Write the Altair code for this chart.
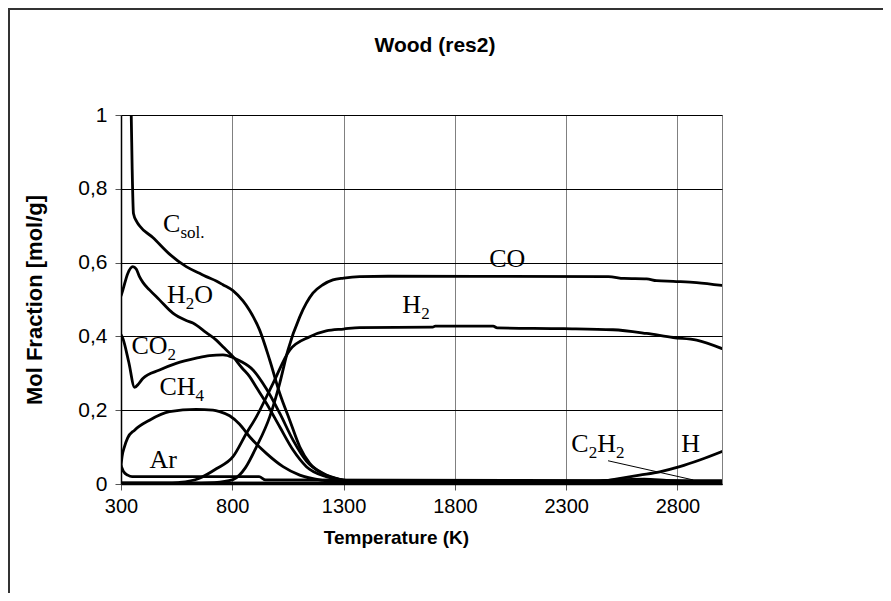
import altair as alt
import pandas as pd

# ---------------- data ----------------
T_CSOL = [340, 346, 350, 356, 370, 383, 443, 518, 593, 653, 683, 728, 758, 803, 848, 878, 923, 968, 1013, 1058, 1103, 1148, 1207, 1297, 1400, 3000]
V_CSOL = [1.08, 1.0, 0.86, 0.733, 0.712, 0.70, 0.668, 0.623, 0.589, 0.571, 0.562, 0.550, 0.540, 0.524, 0.496, 0.470, 0.417, 0.336, 0.246, 0.173, 0.101, 0.056, 0.029, 0.011, 0.004, 0.003]

T_H2O = [300, 308, 330, 353, 368, 383, 400, 428, 473, 533, 593, 623, 683, 728, 758, 803, 843, 878, 908, 953, 1013, 1073, 1133, 1222, 1300, 1400, 3000]
V_H2O = [0.51, 0.525, 0.57, 0.589, 0.583, 0.562, 0.545, 0.526, 0.499, 0.463, 0.443, 0.436, 0.41, 0.39, 0.372, 0.345, 0.315, 0.291, 0.262, 0.219, 0.155, 0.092, 0.047, 0.02, 0.01, 0.004, 0.003]

T_CO2 = [300, 308, 335, 361, 380, 398, 473, 548, 638, 698, 758, 803, 833, 893, 953, 1013, 1073, 1133, 1207, 1300, 1400, 3000]
V_CO2 = [0.405, 0.395, 0.33, 0.262, 0.272, 0.286, 0.309, 0.327, 0.341, 0.348, 0.35, 0.343, 0.334, 0.309, 0.258, 0.192, 0.119, 0.062, 0.028, 0.01, 0.004, 0.003]

T_CH4 = [300, 305, 315, 330, 361, 428, 518, 638, 713, 743, 788, 833, 878, 953, 1028, 1103, 1207, 1300, 3000]
V_CH4 = [0.05, 0.075, 0.10, 0.125, 0.146, 0.173, 0.196, 0.202, 0.2, 0.196, 0.185, 0.162, 0.128, 0.083, 0.047, 0.024, 0.01, 0.005, 0.003]

T_AR = [300, 312, 330, 350, 920, 950, 3000]
V_AR = [0.05, 0.033, 0.024, 0.02, 0.02, 0.011, 0.009]

T_CO = [300, 600, 720, 803, 860, 908, 968, 1013, 1050, 1103, 1162, 1207, 1252, 1300, 1372, 1500, 2490, 2560, 2661, 2706, 2781, 2886, 3000]
V_CO = [0.002, 0.002, 0.004, 0.012, 0.045, 0.10, 0.182, 0.273, 0.363, 0.453, 0.517, 0.54, 0.553, 0.558, 0.562, 0.563, 0.562, 0.557, 0.556, 0.551, 0.549, 0.546, 0.538]

T_H2 = [300, 500, 560, 650, 730, 803, 863, 908, 983, 1058, 1148, 1222, 1300, 1372, 1700, 1712, 1972, 1990, 2290, 2510, 2661, 2781, 2886, 3000]
V_H2 = [0.002, 0.002, 0.004, 0.015, 0.042, 0.074, 0.137, 0.182, 0.273, 0.363, 0.399, 0.415, 0.42, 0.424, 0.425, 0.428, 0.428, 0.423, 0.421, 0.418, 0.408, 0.397, 0.39, 0.367]

T_C2H2 = [300, 2300, 2450, 2550, 2650, 2750, 2870, 3000]
V_C2H2 = [0.002, 0.003, 0.008, 0.012, 0.013, 0.010, 0.006, 0.004]

T_H = [300, 2300, 2450, 2550, 2630, 2720, 2810, 2900, 3000]
V_H = [0.002, 0.002, 0.006, 0.016, 0.024, 0.033, 0.047, 0.065, 0.088]

SERIES = [
    ("Csol", T_CSOL, V_CSOL), ("H2O", T_H2O, V_H2O), ("CO2", T_CO2, V_CO2),
    ("CH4", T_CH4, V_CH4), ("Ar", T_AR, V_AR), ("CO", T_CO, V_CO),
    ("H2", T_H2, V_H2), ("C2H2", T_C2H2, V_C2H2), ("H", T_H, V_H),
]

X_TICKS = [300, 800, 1300, 1800, 2300, 2800]
Y_TICKS = [0, 0.2, 0.4, 0.6, 0.8, 1.0]

# curve labels: segments (text, is_subscript), anchor temperature, anchor value (baseline)
LABEL_SEGMENTS = [
    [("C", 0), ("sol.", 1)],
    [("H", 0), ("2", 1), ("O", 0)],
    [("CO", 0), ("2", 1)],
    [("CH", 0), ("4", 1)],
    [("Ar", 0)],
    [("CO", 0)],
    [("H", 0), ("2", 1)],
    [("C", 0), ("2", 1), ("H", 0), ("2", 1)],
    [("H", 0)],
]
LABEL_T = [489, 507, 347, 473, 428, 1954, 1564, 2323, 2817]
LABEL_V = [0.683, 0.49, 0.352, 0.241, 0.043, 0.588, 0.463, 0.087, 0.087]

# thin leader line under the C2H2 label
LEADER_T = [2488, 2871]
LEADER_V = [0.063, 0.011]

# ---------------- build tables ----------------
rows = []
for name, ts, vs in SERIES:
    for i, (t, v) in enumerate(zip(ts, vs)):
        rows.append({"species": name, "T": t, "v": v, "order": i})
df = pd.DataFrame(rows)

W, H = 601, 369
BASE, SUB, SUBDY = 26, 17, 6
PX2T = 2700.0 / W
GLYPH = {"C": 0.667, "H": 0.722, "O": 0.722, "A": 0.722, "r": 0.333, "2": 0.5,
         "4": 0.5, "s": 0.389, "o": 0.5, "l": 0.278, ".": 0.25}

seg_rows = []
for segs, t0, v0 in zip(LABEL_SEGMENTS, LABEL_T, LABEL_V):
    cursor = 0.0
    for text, sub in segs:
        size = SUB if sub else BASE
        seg_rows.append({
            "T": t0 + cursor * PX2T,
            "v": v0 - (SUBDY / H if sub else 0.0),
            "text": text,
            "sub": sub,
        })
        cursor += sum(GLYPH.get(c, 0.5) for c in text) * size
seg_df = pd.DataFrame(seg_rows)

leader_df = pd.DataFrame({"T": [LEADER_T[0]], "T2": [LEADER_T[1]],
                          "v": [LEADER_V[0]], "v2": [LEADER_V[1]]})

x_scale = alt.Scale(domain=[300, 3000], nice=False, zero=False)
y_scale = alt.Scale(domain=[0, 1], nice=False, zero=True)

x_axis = alt.Axis(
    values=X_TICKS, format="d", title="Temperature (K)", grid=True, gridColor="#808080",
    gridWidth=1, domainColor="black", domainWidth=1.5, tickColor="#555",
    tickSize=6, labelFont="Liberation Sans", labelFontSize=20,
    labelColor="black", labelPadding=6, titleFont="Liberation Sans",
    titleFontSize=19, titleFontWeight="bold", titleColor="black",
    titlePadding=12, labelFlush=False, titleX=275, titleAlign="center",
)
y_axis = alt.Axis(
    values=Y_TICKS, title="Mol Fraction [mol/g]", grid=True, gridColor="black",
    gridWidth=1, domainColor="black", domainWidth=1.5, tickColor="#555",
    tickSize=6, labelFont="Liberation Sans", labelFontSize=21,
    labelColor="black", labelPadding=8, titleFont="Liberation Sans",
    titleFontSize=22, titleFontWeight="bold", titleColor="black",
    titlePadding=31, labelFlush=False,
    labelExpr="replace(format(datum.value, '.1~f'), '.', ',')",
)

lines = alt.Chart(df).mark_line(
    color="black", strokeWidth=2.8, clip=True, interpolate="monotone",
    strokeJoin="round", strokeCap="round",
).encode(
    x=alt.X("T:Q", scale=x_scale, axis=x_axis),
    y=alt.Y("v:Q", scale=y_scale, axis=y_axis),
    detail="species:N",
    order="order:Q",
)

base_txt = alt.Chart(seg_df).transform_filter("datum.sub == 0").mark_text(
    font="Liberation Serif", fontSize=BASE, align="left", baseline="alphabetic",
    color="black",
).encode(x=alt.X("T:Q", scale=x_scale), y=alt.Y("v:Q", scale=y_scale), text="text:N")

sub_txt = alt.Chart(seg_df).transform_filter("datum.sub == 1").mark_text(
    font="Liberation Serif", fontSize=SUB, align="left", baseline="alphabetic",
    color="black",
).encode(x=alt.X("T:Q", scale=x_scale), y=alt.Y("v:Q", scale=y_scale), text="text:N")

leader = alt.Chart(leader_df).mark_rule(color="black", strokeWidth=1).encode(
    x=alt.X("T:Q", scale=x_scale), x2="T2:Q",
    y=alt.Y("v:Q", scale=y_scale), y2="v2:Q",
)

one = pd.DataFrame({"a": [0]})
title = alt.Chart(one).mark_text(
    text="Wood (res2)", font="Liberation Sans", fontSize=21, fontWeight="bold",
    align="center", baseline="middle", color="black",
).encode(x=alt.value(314), y=alt.value(-69))

frame_left = alt.Chart(one).mark_rule(color="#333", strokeWidth=2).encode(
    x=alt.value(-112), y=alt.value(-107), y2=alt.value(H + 109))
frame_top = alt.Chart(one).mark_rule(color="#333", strokeWidth=2).encode(
    y=alt.value(-106), x=alt.value(-113), x2=alt.value(W + 161))

chart = alt.layer(
    lines, leader, base_txt, sub_txt, title, frame_left, frame_top
).properties(
    width=W, height=H,
    autosize=alt.AutoSizeParams(type="none"),
    padding={"left": 113, "top": 107, "right": 161, "bottom": 109},
    background="white",
).configure_view(stroke="#808080", strokeWidth=1)

chart.save("out.html", embed_options={"renderer": "svg", "actions": False})
